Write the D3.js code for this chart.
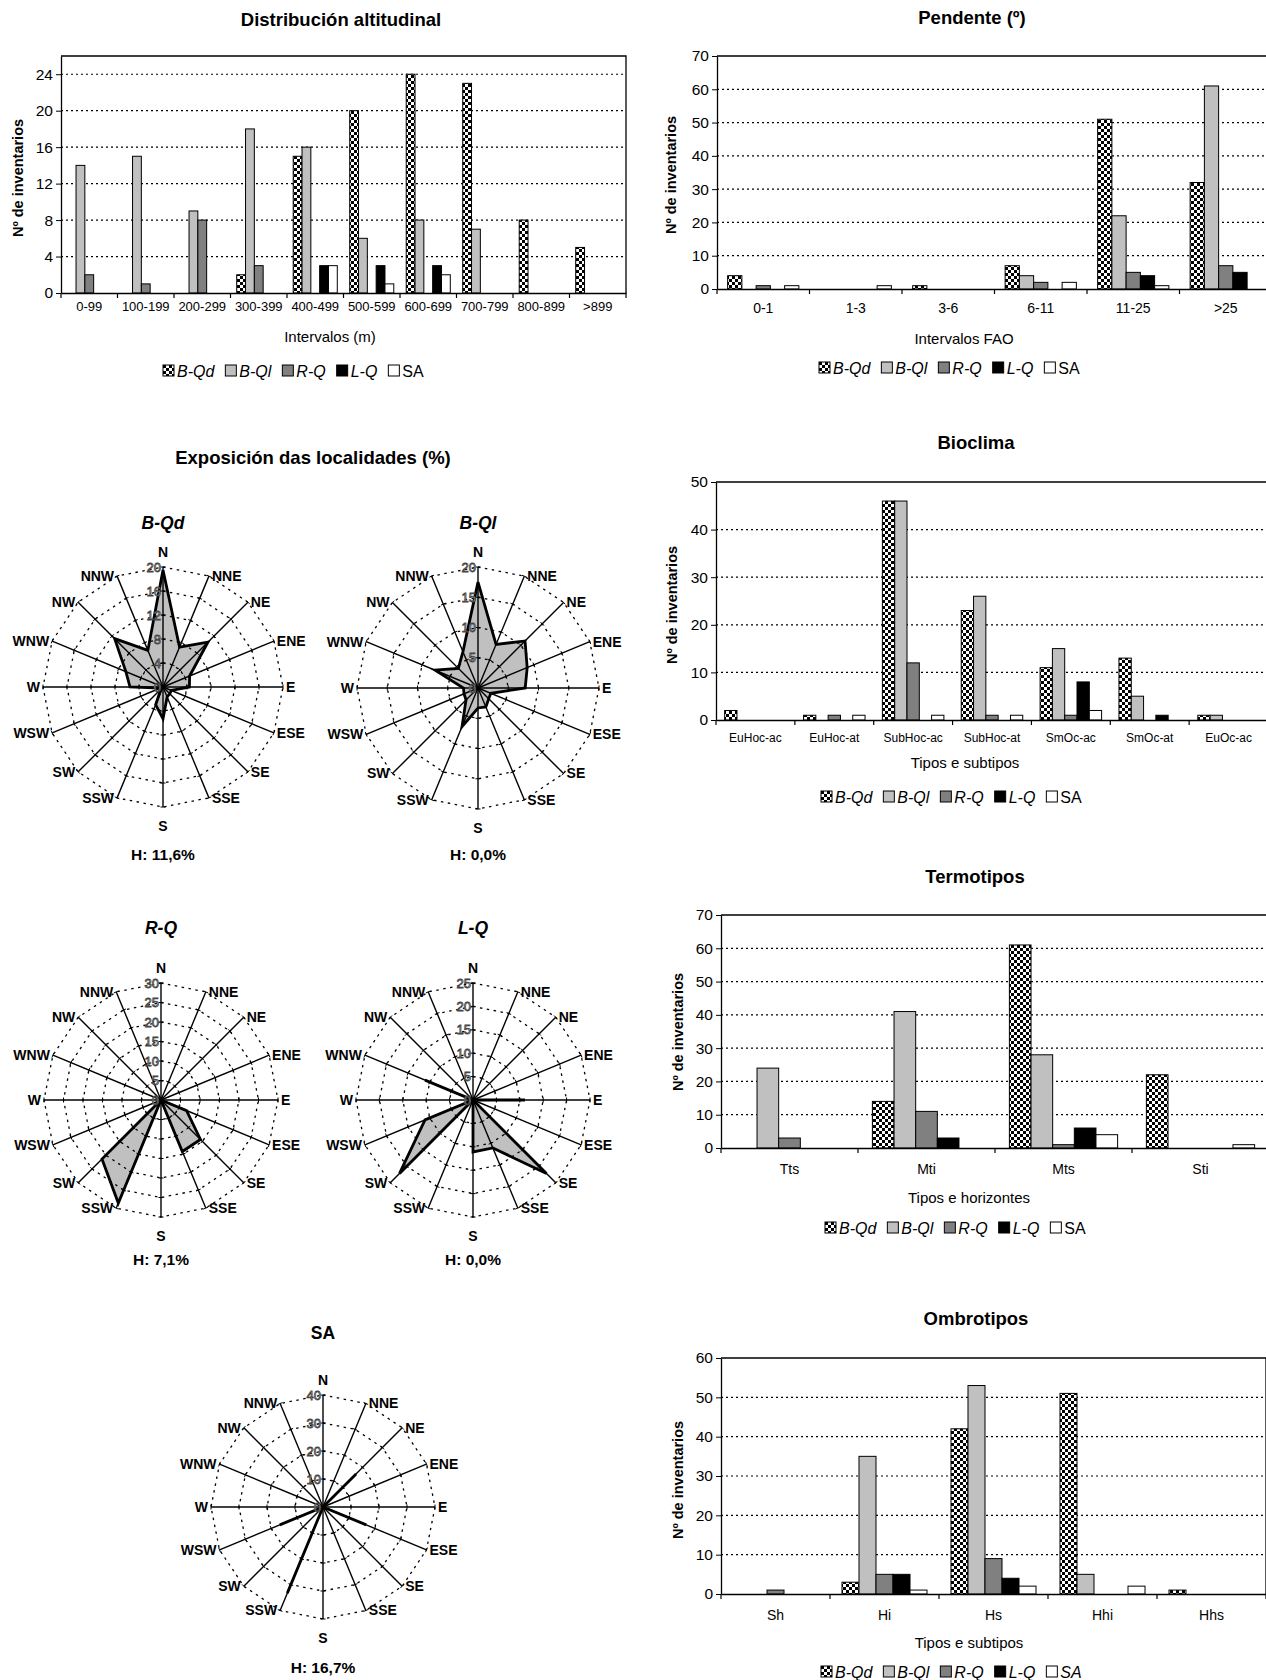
<!DOCTYPE html>
<html>
<head>
<meta charset="utf-8">
<script src="https://cdnjs.cloudflare.com/ajax/libs/d3/7.8.5/d3.min.js"></script>
<style>
body { margin: 0; background: #fff; }
svg { display: block; font-family: "Liberation Sans", Arial, sans-serif; }
</style>
</head>
<body>
<svg id="fig" width="1266" height="1680"></svg>
<script>
// ---- data ----
var series = ["B-Qd", "B-Ql", "R-Q", "L-Q", "SA"];

var altCats = ["0-99", "100-199", "200-299", "300-399", "400-499", "500-599", "600-699", "700-799", "800-899", ">899"];
var altBQd = [0, 0, 0, 2, 15, 20, 24, 23, 8, 5];
var altBQl = [14, 15, 9, 18, 16, 6, 8, 7, 0, 0];
var altRQ  = [2, 1, 8, 3, 0, 0, 0, 0, 0, 0];
var altLQ  = [0, 0, 0, 0, 3, 3, 3, 0, 0, 0];
var altSA  = [0, 0, 0, 0, 3, 1, 2, 0, 0, 0];

var pendCats = ["0-1", "1-3", "3-6", "6-11", "11-25", ">25"];
var pendBQd = [4, 0, 1, 7, 51, 32];
var pendBQl = [0, 0, 0, 4, 22, 61];
var pendRQ  = [1, 0, 0, 2, 5, 7];
var pendLQ  = [0, 0, 0, 0, 4, 5];
var pendSA  = [1, 1, 0, 2, 1, 0];

var bioCats = ["EuHoc-ac", "EuHoc-at", "SubHoc-ac", "SubHoc-at", "SmOc-ac", "SmOc-at", "EuOc-ac"];
var bioBQd = [2, 1, 46, 23, 11, 13, 1];
var bioBQl = [0, 0, 46, 26, 15, 5, 1];
var bioRQ  = [0, 1, 12, 1, 1, 0, 0];
var bioLQ  = [0, 0, 0, 0, 8, 1, 0];
var bioSA  = [0, 1, 1, 1, 2, 0, 0];

var termCats = ["Tts", "Mti", "Mts", "Sti"];
var termBQd = [0, 14, 61, 22];
var termBQl = [24, 41, 28, 0];
var termRQ  = [3, 11, 1, 0];
var termLQ  = [0, 3, 6, 0];
var termSA  = [0, 0, 4, 1];

var ombCats = ["Sh", "Hi", "Hs", "Hhi", "Hhs"];
var ombBQd = [0, 3, 42, 51, 1];
var ombBQl = [0, 35, 53, 5, 0];
var ombRQ  = [1, 5, 9, 0, 0];
var ombLQ  = [0, 5, 4, 0, 0];
var ombSA  = [0, 1, 2, 2, 0];

// exposure (% of plots) by direction
var dirs = ["N", "NNE", "NE", "ENE", "E", "ESE", "SE", "SSE", "S", "SSW", "SW", "WSW", "W", "WNW", "NW", "NNW"];
var expBQd = [19.5, 7.2, 10.6, 4.8, 4.4, 1.5, 1.6, 1.8, 5.3, 3.2, 0.5, 0.5, 5.5, 6.7, 11.4, 6.6];
var expBQl = [17.5, 7.8, 11, 8.8, 7.8, 2.3, 2.5, 3.4, 3.3, 6.9, 2.8, 2.5, 2.4, 7.7, 4.6, 6.5];
var expRQ  = [0, 0, 0, 0, 0, 7.1, 14.3, 14.3, 0, 28.6, 21.4, 0, 0, 0, 0, 0];
var expLQ  = [0, 0, 0, 0, 11.1, 0, 22.2, 11.1, 11.1, 0, 22.2, 11.1, 0, 11.1, 0, 0];
var expSA  = [0, 0, 16.7, 0, 0, 16.7, 0, 0, 0, 33.3, 0, 16.7, 0, 0, 0, 0];
var expH   = ["H: 11,6%", "H: 0,0%", "H: 7,1%", "H: 0,0%", "H: 16,7%"];

// ---- styles ----
var seriesFill = ["url(#dots)", "#c0c0c0", "#808080", "#000", "#fff"];

var svg = d3.select("#fig");
var defs = svg.append("defs");
var pat = defs.append("pattern").attr("id", "dots")
  .attr("patternUnits", "userSpaceOnUse").attr("width", 6).attr("height", 6);
pat.append("rect").attr("width", 6).attr("height", 6).attr("fill", "#fff");
pat.append("rect").attr("x", 0).attr("y", 0).attr("width", 3).attr("height", 3).attr("fill", "#000");
pat.append("rect").attr("x", 3).attr("y", 3).attr("width", 3).attr("height", 3).attr("fill", "#000");

function legend(x, y, saItalic) {
  var g = svg.append("g").attr("transform", "translate(" + x + "," + y + ")");
  var cx = 0;
  series.forEach(function(s, i) {
    g.append("rect").attr("x", cx).attr("y", -6).attr("width", 11).attr("height", 11)
      .attr("fill", seriesFill[i]).attr("stroke", "#000");
    var t = g.append("text").attr("x", cx + 14).attr("y", 5.5)
      .attr("font-size", 16)
      .attr("font-style", (i < 4 || saItalic) ? "italic" : "normal")
      .text(s);
    cx += 14 + t.node().getComputedTextLength() + 11;
  });
}

function barChart(c) {
  var g = svg.append("g");
  var x0 = d3.scaleBand().domain(c.cats).range([c.left, c.right]);
  var bw = x0.bandwidth();
  var x1 = d3.scaleBand().domain(series).range([bw * c.inset, bw * (1 - c.inset)]);
  var y = d3.scaleLinear().domain([0, c.max]).range([c.bottom, c.top]);
  var ticks = d3.range(0, c.tickMax + 0.001, c.step);

  g.selectAll("line.grid").data(ticks.filter(function(t) { return t > 0 && t < c.max; }))
    .enter().append("line").attr("class", "grid")
    .attr("x1", c.left).attr("x2", c.right)
    .attr("y1", function(d) { return y(d); }).attr("y2", function(d) { return y(d); })
    .attr("stroke", "#000").attr("stroke-width", 1.2).attr("stroke-dasharray", "2,3");

  g.append("path")
    .attr("d", "M" + c.left + "," + y(c.max) + "H" + c.right + "V" + c.bottom)
    .attr("fill", "none").attr("stroke", "#000").attr("stroke-width", 1.3);

  c.values.forEach(function(vals, si) {
    var pts = vals.map(function(v, i) { return { cat: c.cats[i], v: v }; })
      .filter(function(d) { return d.v > 0; });
    g.selectAll(null).data(pts).enter().append("rect")
      .attr("x", function(d) { return x0(d.cat) + x1(series[si]); })
      .attr("y", function(d) { return y(d.v); })
      .attr("width", x1.bandwidth())
      .attr("height", function(d) { return c.bottom - y(d.v); })
      .attr("fill", seriesFill[si]).attr("stroke", "#000").attr("stroke-width", 1);
  });

  var ya = g.append("g").attr("transform", "translate(" + c.left + ",0)")
    .call(d3.axisLeft(y).tickValues(ticks).tickSize(5).tickSizeOuter(0).tickPadding(3)
      .tickFormat(d3.format("d")));
  ya.attr("font-family", null).attr("font-size", null);
  ya.select(".domain").attr("stroke", "#000").attr("stroke-width", 1.3);
  ya.selectAll("text").attr("font-size", 15.5).attr("fill", "#000");

  var xa = g.append("g").attr("transform", "translate(0," + c.bottom + ")")
    .call(d3.axisBottom(x0).tickSize(0).tickPadding(c.labPad));
  xa.attr("font-family", null).attr("font-size", null);
  xa.select(".domain").attr("stroke", "#000").attr("stroke-width", 1.3);
  xa.selectAll("text").attr("font-size", c.labSize).attr("fill", "#000");
  xa.selectAll("line.bound").data(c.cats.concat(["end"])).enter().append("line")
    .attr("class", "bound")
    .attr("x1", function(d) { return d === "end" ? c.right : x0(d); })
    .attr("x2", function(d) { return d === "end" ? c.right : x0(d); })
    .attr("y1", 0).attr("y2", 5).attr("stroke", "#000").attr("stroke-width", 1.2);

  svg.append("text").attr("x", c.titleX).attr("y", c.titleY).attr("dy", "0.35em")
    .attr("text-anchor", "middle").attr("font-size", 18.5).attr("font-weight", "bold").text(c.title);
  svg.append("text").attr("x", c.xTitleX).attr("y", c.xTitleY).attr("dy", "0.35em")
    .attr("text-anchor", "middle").attr("font-size", 15).text(c.xTitle);
  svg.append("text").attr("transform", "translate(" + c.yTitleX + "," + c.yTitleY + ") rotate(-90)")
    .attr("dy", "0.35em").attr("text-anchor", "middle").attr("font-size", 14.5)
    .attr("font-weight", "bold").text("Nº de inventarios");
  legend(c.legX, c.legY, c.saItalic);
}

barChart({
  title: "Distribución altitudinal", titleX: 341, titleY: 20,
  cats: altCats, values: [altBQd, altBQl, altRQ, altLQ, altSA],
  left: 61, right: 626, top: 56, bottom: 293, max: 26, tickMax: 24, step: 4, inset: 0.11,
  labPad: 9, labSize: 13, xTitle: "Intervalos (m)", xTitleX: 330, xTitleY: 337,
  yTitleX: 18, yTitleY: 178, legX: 163, legY: 371
});
barChart({
  title: "Pendente (º)", titleX: 972, titleY: 18,
  cats: pendCats, values: [pendBQd, pendBQl, pendRQ, pendLQ, pendSA],
  left: 717, right: 1272, top: 56, bottom: 289, max: 70, tickMax: 70, step: 10, inset: 0.115,
  labPad: 14, labSize: 14, xTitle: "Intervalos FAO", xTitleX: 964, xTitleY: 339,
  yTitleX: 671, yTitleY: 175, legX: 819, legY: 368
});
barChart({
  title: "Bioclima", titleX: 976, titleY: 443,
  cats: bioCats, values: [bioBQd, bioBQl, bioRQ, bioLQ, bioSA],
  left: 716, right: 1268, top: 482, bottom: 720, max: 50, tickMax: 50, step: 10, inset: 0.11,
  labPad: 13, labSize: 12, xTitle: "Tipos e subtipos", xTitleX: 965, xTitleY: 763,
  yTitleX: 672, yTitleY: 605, legX: 821, legY: 797
});
barChart({
  title: "Termotipos", titleX: 975, titleY: 877,
  cats: termCats, values: [termBQd, termBQl, termRQ, termLQ, termSA],
  left: 721, right: 1269, top: 915, bottom: 1148, max: 70, tickMax: 70, step: 10, inset: 0.105,
  labPad: 16, labSize: 14, xTitle: "Tipos e horizontes", xTitleX: 969, xTitleY: 1198,
  yTitleX: 678, yTitleY: 1032, legX: 825, legY: 1228
});
barChart({
  title: "Ombrotipos", titleX: 976, titleY: 1319,
  cats: ombCats, values: [ombBQd, ombBQl, ombRQ, ombLQ, ombSA],
  left: 721, right: 1266, top: 1358, bottom: 1594, max: 60, tickMax: 60, step: 10, inset: 0.11,
  labPad: 16, labSize: 14, xTitle: "Tipos e subtipos", xTitleX: 969, xTitleY: 1643,
  yTitleX: 678, yTitleY: 1480, legX: 821, legY: 1672, saItalic: true
});

// ---- exposure radars ----
svg.append("text").attr("x", 313).attr("y", 458).attr("dy", "0.35em")
  .attr("text-anchor", "middle").attr("font-size", 18.5).attr("font-weight", "bold")
  .text("Exposición das localidades (%)");

var ang = d3.scaleLinear().domain([0, dirs.length]).range([0, 2 * Math.PI]);

function radar(c) {
  var g = svg.append("g").attr("transform", "translate(" + c.cx + "," + c.cy + ")");
  var r = d3.scaleLinear().domain([0, c.max]).range([0, c.r]);
  var rings = d3.range(c.step, c.max + 0.001, c.step);
  var line = d3.lineRadial().curve(d3.curveLinearClosed)
    .angle(function(d, i) { return ang(i); });

  g.append("path").datum(c.values)
    .attr("d", line.radius(function(d) { return r(d); }))
    .attr("fill", "#c0c0c0").attr("stroke", "none");

  rings.forEach(function(t) {
    g.append("path").datum(dirs)
      .attr("d", line.radius(function() { return r(t); }))
      .attr("fill", "none").attr("stroke", "#000").attr("stroke-width", 1.3)
      .attr("stroke-dasharray", "2.5,4.5");
  });

  g.selectAll("line.spoke").data(dirs).enter().append("line")
    .attr("x1", 0).attr("y1", 0)
    .attr("x2", function(d, i) { return Math.sin(ang(i)) * c.r; })
    .attr("y2", function(d, i) { return -Math.cos(ang(i)) * c.r; })
    .attr("stroke", "#000").attr("stroke-width", 1.4);

  dirs.forEach(function(d, i) {
    var s = Math.sin(ang(i)), k = -Math.cos(ang(i));
    rings.forEach(function(t) {
      var px = s * r(t), py = k * r(t);
      g.append("line")
        .attr("x1", px - k * 2.5).attr("y1", py + s * 2.5)
        .attr("x2", px + k * 2.5).attr("y2", py - s * 2.5)
        .attr("stroke", "#000").attr("stroke-width", 1);
    });
  });

  g.append("path").datum(c.values)
    .attr("d", line.radius(function(d) { return r(d); }))
    .attr("fill", "none").attr("stroke", "#000").attr("stroke-width", 2.8)
    .attr("stroke-linejoin", "miter");

  g.selectAll("text.tick").data([0].concat(rings)).enter().append("text")
    .attr("x", -2).attr("y", function(d) { return -r(d); }).attr("dy", "0.35em")
    .attr("text-anchor", "end").attr("font-size", 13).attr("fill", "#ddd")
    .attr("stroke", "#444").attr("stroke-width", 0.8)
    .text(function(d) { return d; });

  g.selectAll("text.dir").data(dirs).enter().append("text")
    .attr("font-size", 14).attr("font-weight", "bold")
    .attr("x", function(d, i) {
      var s = Math.sin(ang(i));
      return Math.abs(s) < 0.01 ? 0 : s * c.r + (s > 0 ? 3 : -3);
    })
    .attr("y", function(d, i) {
      var k = -Math.cos(ang(i));
      if (i === 0) return -c.r - 15;
      if (i === 8) return c.r + 19;
      return k * c.r;
    })
    .attr("dy", "0.35em")
    .attr("text-anchor", function(d, i) {
      var s = Math.sin(ang(i));
      return Math.abs(s) < 0.01 ? "middle" : (s > 0 ? "start" : "end");
    })
    .text(function(d) { return d; });

  svg.append("text").attr("x", c.cx).attr("y", c.titleY).attr("dy", "0.35em")
    .attr("text-anchor", "middle").attr("font-size", 17.5).attr("font-weight", "bold")
    .attr("font-style", c.italic ? "italic" : "normal").text(c.title);
  svg.append("text").attr("x", c.cx).attr("y", c.hY).attr("dy", "0.35em")
    .attr("text-anchor", "middle").attr("font-size", 15.5).attr("font-weight", "bold")
    .text(c.h);
}

radar({ title: "B-Qd", italic: true, values: expBQd, h: expH[0],
  cx: 163, cy: 687, r: 120, max: 20, step: 4, titleY: 523, hY: 855 });
radar({ title: "B-Ql", italic: true, values: expBQl, h: expH[1],
  cx: 478, cy: 688, r: 121, max: 20, step: 5, titleY: 523, hY: 855 });
radar({ title: "R-Q", italic: true, values: expRQ, h: expH[2],
  cx: 161, cy: 1100, r: 117, max: 30, step: 5, titleY: 928, hY: 1260 });
radar({ title: "L-Q", italic: true, values: expLQ, h: expH[3],
  cx: 473, cy: 1100, r: 117, max: 25, step: 5, titleY: 928, hY: 1260 });
radar({ title: "SA", italic: false, values: expSA, h: expH[4],
  cx: 323, cy: 1507, r: 112, max: 40, step: 10, titleY: 1333, hY: 1668 });
</script>
</body>
</html>
